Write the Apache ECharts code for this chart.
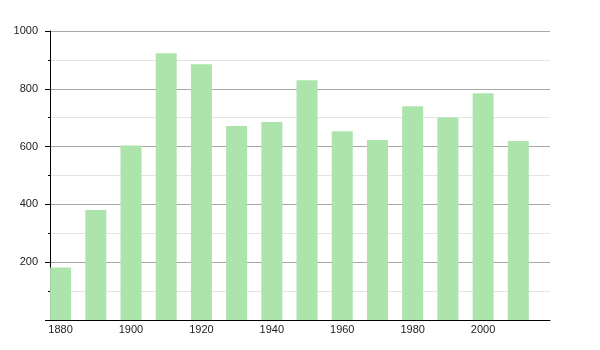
<!DOCTYPE html>
<html>
<head>
<meta charset="utf-8">
<script src="https://cdn.jsdelivr.net/npm/echarts@6/dist/echarts.min.js"></script>
<style>html,body{margin:0;padding:0;background:#fff}#c{width:600px;height:350px}</style>
</head>
<body>
<div id="c"></div>
<script>
const years = [1880, 1890, 1900, 1910, 1920, 1930, 1940, 1950, 1960, 1970, 1980, 1990, 2000, 2010];
const values = [182, 381, 604, 923, 885, 671, 685, 830, 653, 623, 740, 701, 785, 619];
const xTickLabels = [1880, 1900, 1920, 1940, 1960, 1980, 2000];
const xRange = [1877, 2019];
const yRange = [0, 1000];

const chart = echarts.init(document.getElementById('c'), null, {renderer: 'canvas'});
chart.setOption({
  animation: false,
  grid: {left: 50, right: 50, top: 31, bottom: 30, containLabel: false},
  xAxis: {
    type: 'value',
    min: xRange[0],
    max: xRange[1],
    axisLine: {show: true, onZero: false, lineStyle: {color: '#000', width: 1}},
    axisTick: {show: false},
    splitLine: {show: false},
    axisLabel: {
      customValues: xTickLabels,
      formatter: v => String(v),
      color: '#222',
      fontFamily: 'Liberation Sans, Arial, sans-serif',
      fontSize: 11,
      margin: 4
    }
  },
  yAxis: {
    type: 'value',
    min: yRange[0],
    max: yRange[1],
    interval: 200,
    axisLine: {show: true, lineStyle: {color: '#000', width: 1}},
    axisTick: {show: true, length: 5, lineStyle: {color: '#000'}},
    minorTick: {show: true, splitNumber: 2, length: 2, lineStyle: {color: '#000'}},
    splitLine: {show: true, lineStyle: {color: '#a8a8a8', width: 1}},
    minorSplitLine: {show: true, lineStyle: {color: '#e4e4e4', width: 1}},
    axisLabel: {
      formatter: v => (v === 0 ? '' : String(v)),
      color: '#222',
      fontFamily: 'Liberation Sans, Arial, sans-serif',
      fontSize: 11,
      margin: 12
    }
  },
  series: [{
    type: 'bar',
    barWidth: 21,
    itemStyle: {color: '#ace4ab'},
    data: years.map((y, i) => [y, values[i]])
  }]
});
</script>
</body>
</html>
